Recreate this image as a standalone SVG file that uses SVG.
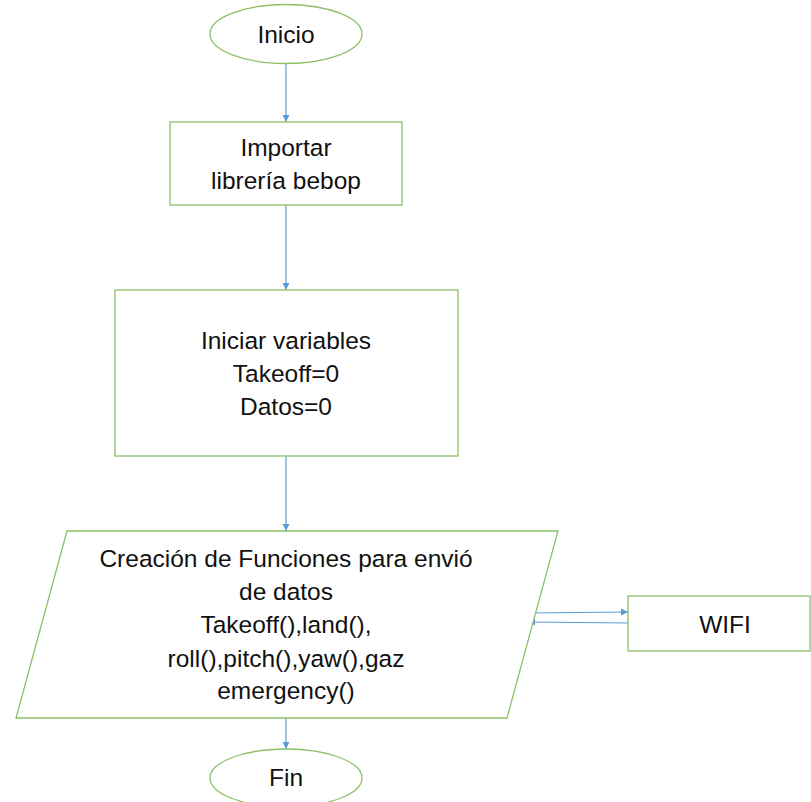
<svg xmlns="http://www.w3.org/2000/svg" width="811" height="802" viewBox="0 0 811 802">
<defs>
<marker id="ah" markerWidth="8" markerHeight="8" refX="7" refY="4" orient="auto" markerUnits="userSpaceOnUse">
<path d="M0,0.5 L7,4 L0,7.5 Z" fill="#5B9BD5"/>
</marker>
<style>
.shape{fill:#FFFFFF;stroke:#8CC168;stroke-width:1.3}
.t{font-family:"Liberation Sans",Arial,sans-serif;font-size:24.5px;fill:#111111;text-anchor:middle}
.c{stroke:#5B9BD5;stroke-width:1.2;fill:none;marker-end:url(#ah)}
</style>
</defs>
<rect width="811" height="802" fill="#FFFFFF"/>
<g id="connectors">
<line class="c" x1="286" y1="63" x2="286" y2="122"/>
<line class="c" x1="286" y1="205" x2="286" y2="290"/>
<line class="c" x1="286" y1="456" x2="286" y2="531"/>
<line class="c" x1="286" y1="718" x2="286" y2="749"/>
<line class="c" x1="528" y1="613" x2="628" y2="612"/>
<line class="c" x1="628" y1="623" x2="528" y2="622"/>
</g>
<g id="inicio">
<ellipse class="shape" cx="286" cy="34" rx="76" ry="29.5"/>
<text class="t" x="286" y="43">Inicio</text>
</g>
<g id="importar">
<rect class="shape" x="170" y="122" width="232" height="83"/>
<text class="t" x="286" y="156">Importar</text>
<text class="t" x="286" y="189">librería bebop</text>
</g>
<g id="variables">
<rect class="shape" x="115" y="290" width="343" height="166"/>
<text class="t" x="286" y="349">Iniciar variables</text>
<text class="t" x="286" y="382">Takeoff=0</text>
<text class="t" x="286" y="415">Datos=0</text>
</g>
<g id="funciones">
<polygon class="shape" points="67,531 558,531 507,718 16,718"/>
<text class="t" x="286" y="567">Creación de Funciones para envió</text>
<text class="t" x="286" y="600">de datos</text>
<text class="t" x="286" y="633">Takeoff(),land(),</text>
<text class="t" x="286" y="667">roll(),pitch(),yaw(),gaz</text>
<text class="t" x="286" y="699">emergency()</text>
</g>
<g id="wifi">
<rect class="shape" x="628" y="596" width="182" height="55"/>
<text class="t" x="725" y="633">WIFI</text>
</g>
<g id="fin">
<ellipse class="shape" cx="286" cy="778" rx="76" ry="29"/>
<text class="t" x="286" y="786">Fin</text>
</g>
</svg>
